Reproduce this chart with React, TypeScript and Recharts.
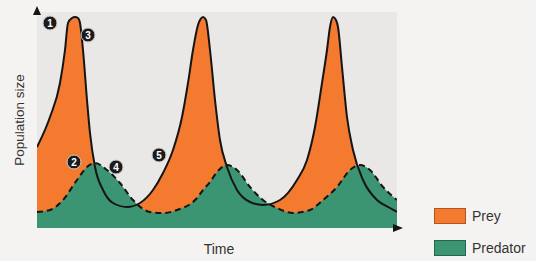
import { ComposedChart, Area, Line, XAxis, YAxis, ReferenceDot, CartesianGrid } from 'recharts'

// time / population (arbitrary units, no ticks shown)
const preyTime = [0, 13, 23, 28, 31, 35, 38, 41, 43, 46, 50, 53, 58, 66, 76, 90, 103, 116, 126, 136, 145, 151, 156, 161, 163, 166, 169, 173, 178, 183, 190, 200, 213, 226, 243, 260, 270, 278, 285, 290, 293, 296, 299, 301, 305, 310, 316, 326, 340, 353, 360]
const preySize = [81, 111, 145, 178, 205, 210, 211, 210, 205, 178, 128, 95, 61, 38, 25, 21, 25, 38, 55, 78, 111, 145, 178, 203, 208, 211, 208, 178, 128, 88, 61, 38, 26, 23, 28, 48, 68, 101, 145, 178, 201, 211, 208, 201, 161, 111, 78, 48, 28, 20, 16]
const predatorTime = [0, 13, 26, 40, 50, 58, 70, 83, 96, 113, 126, 140, 160, 166, 173, 180, 190, 200, 213, 226, 240, 256, 273, 286, 300, 313, 323, 333, 346, 360]
const predatorSize = [16, 18, 28, 48, 61, 65, 58, 45, 28, 16, 15, 18, 30, 38, 46, 56, 63, 58, 41, 28, 20, 15, 18, 28, 41, 58, 63, 58, 41, 28]

const markerLabels = ['1', '2', '3', '4', '5']
const markerTime = [13, 37, 51, 79, 122]
const markerSize = [205, 66, 193, 61, 73]

const seriesNames = ['Prey', 'Predator']
const ORANGE = '#f37a2e'
const GREEN = '#3b9472'
const FONT = 'Liberation Sans, Arial, sans-serif'

const preyData = preyTime.map((t, i) => ({ t, prey: preySize[i] }))
const predatorData = predatorTime.map((t, i) => ({ t, predator: predatorSize[i] }))

const upArrow = (props: any) => (
    <path d={`M${props.cx - 4},${props.cy + 3} L${props.cx},${props.cy - 6} L${props.cx + 4},${props.cy + 3} Z`} fill="#151515" />
)
const rightArrow = (props: any) => (
    <path d={`M${props.cx - 4},${props.cy - 4} L${props.cx + 6},${props.cy} L${props.cx - 4},${props.cy + 4} Z`} fill="#151515" />
)

export default function App() {
    return (
        <div style={{ position: 'absolute', left: 0, top: 0, width: 536, height: 261, background: '#f4f3f2', overflow: 'hidden' }}>
            <ComposedChart width={536} height={261} margin={{ top: 12, right: 139, bottom: 33, left: 37 }}>
                <CartesianGrid fill="#eae8e7" horizontal={false} vertical={false} />
                <XAxis dataKey="t" type="number" domain={[0, 360]} allowDataOverflow height={0} tick={false} tickLine={false}
                    axisLine={{ stroke: '#151515', strokeWidth: 2 }} />
                <YAxis type="number" domain={[0, 216]} allowDataOverflow width={0} tick={false} tickLine={false}
                    axisLine={{ stroke: '#151515', strokeWidth: 2 }} />
                <Area data={preyData} dataKey="prey" type="monotone" fill={ORANGE} fillOpacity={1} stroke="none" isAnimationActive={false} />
                <Area data={predatorData} dataKey="predator" type="monotone" fill={GREEN} fillOpacity={1} stroke="#151515"
                    strokeWidth={2} strokeDasharray="6 4" isAnimationActive={false} />
                <Line data={preyData} dataKey="prey" type="monotone" stroke="#151515" strokeWidth={2} dot={false} isAnimationActive={false} />
                <ReferenceDot x={0} y={216} ifOverflow="visible" shape={upArrow} />
                <ReferenceDot x={360} y={0} ifOverflow="visible" shape={rightArrow} />
                {markerLabels.map((m, i) => (
                    <ReferenceDot key={m} x={markerTime[i]} y={markerSize[i]} r={7} fill="#1b1b1b" stroke="#cfcfcf" strokeWidth={1}
                        label={{ value: m, position: 'center', fill: '#fff', fontSize: 10, fontWeight: 700, fontFamily: FONT }} />
                ))}
            </ComposedChart>
            <div style={{ position: 'absolute', left: 434, top: 207, fontFamily: FONT, fontSize: 14, color: '#333' }}>
                {seriesNames.map((name, i) => (
                    <div key={name} style={{ display: 'flex', alignItems: 'center', height: 17, marginBottom: 15 }}>
                        <span style={{
                            width: 30, height: 14, background: i === 0 ? ORANGE : GREEN,
                            border: `1.5px solid ${i === 0 ? '#b4531e' : '#25654b'}`, marginRight: 6,
                        }} />
                        {name}
                    </div>
                ))}
            </div>
            <div style={{
                position: 'absolute', left: 19, top: 120, transform: 'translate(-50%, -50%) rotate(-90deg)', whiteSpace: 'nowrap',
                fontFamily: FONT, fontSize: 13.5, color: '#333',
            }}>Population size</div>
            <div style={{
                position: 'absolute', left: 219, top: 249, transform: 'translate(-50%, -50%)',
                fontFamily: FONT, fontSize: 14, color: '#333',
            }}>Time</div>
        </div>
    )
}
